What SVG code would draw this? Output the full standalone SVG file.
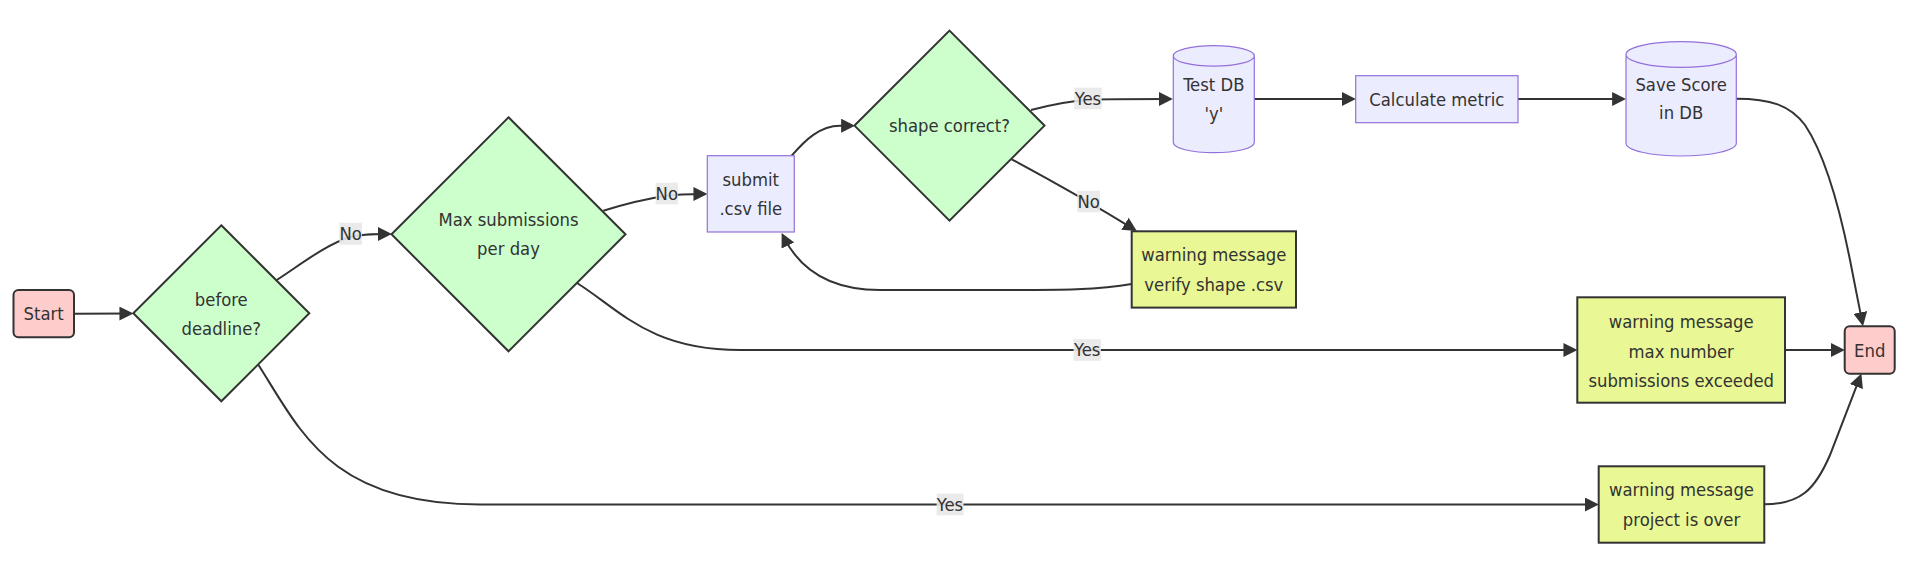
<svg xmlns="http://www.w3.org/2000/svg" width="1912" height="576" viewBox="0 0 1912 576">
<style>
text{font-family:"DejaVu Sans Condensed","DejaVu Sans",sans-serif;font-stretch:condensed;font-size:18.3px;fill:#333;text-anchor:middle}
.term{fill:#FFCCCC;stroke:#333;stroke-width:2}
.dec{fill:#CCFFCC;stroke:#333;stroke-width:2}
.proc{fill:#ECECFF;stroke:#9370DB;stroke-width:1.2}
.warn{fill:#E9F794;stroke:#333;stroke-width:2}
.edge{fill:none;stroke:#333;stroke-width:2}
.lbl{fill:#E8E8E8;opacity:0.9}
</style>
<defs>
<marker id="arr" markerUnits="userSpaceOnUse" markerWidth="14" markerHeight="14" viewBox="0 0 13.5 13.5" refX="9.5" refY="6.75" orient="auto">
<path d="M0,0 L13.5,6.75 L0,13.5 z" fill="#333"/>
</marker>
</defs>
<rect width="1912" height="576" fill="#fff"/>
<g id="connectors">
<path class="edge" marker-end="url(#arr)" d="M74,313.7 L129.3,313.6"/>
<path class="edge" marker-end="url(#arr)" d="M276.7,280 C300,265 325,245 350,237 C362,234 372,234 387.7,234"/>
<path class="edge" marker-end="url(#arr)" d="M603.3,210.7 C625,204 645,199 665,196 C680,194 690,194 703.3,194"/>
<path class="edge" marker-end="url(#arr)" d="M791.7,155.7 C805,140 820,125.7 840,125.7 L851,125.7"/>
<path class="edge" marker-end="url(#arr)" d="M1031,110 C1050,105 1070,101 1090,99.5 C1110,99 1140,99 1168.7,99"/>
<path class="edge" marker-end="url(#arr)" d="M1254.3,99 L1351.7,99"/>
<path class="edge" marker-end="url(#arr)" d="M1518,99 L1622,99"/>
<path class="edge" marker-end="url(#arr)" d="M1736.3,98.7 C1770,98.7 1790,105 1805,125 C1825,155 1840,210 1850,260 L1862.2,322.1"/>
<path class="edge" marker-end="url(#arr)" d="M1011.7,159.3 Q1080,196 1133.3,228.9"/>
<path class="edge" marker-end="url(#arr)" d="M1131.7,284 C1100,290 1060,290 1000,290 L880,290 C830,290 800,270 783.5,236.6"/>
<path class="edge" marker-end="url(#arr)" d="M577,283 C620,310 650,350 740,350 L1573.3,350"/>
<path class="edge" marker-end="url(#arr)" d="M258.5,365 C300,430 330,504.5 480,504.5 L1594.7,504.5"/>
<path class="edge" marker-end="url(#arr)" d="M1785,350 L1840.7,350"/>
<path class="edge" marker-end="url(#arr)" d="M1764.3,504.3 C1800,504.3 1815,490 1830,455 L1859.9,377.4"/>
<g id="edge-labels">
<rect class="lbl" x="339.3" y="222.7" width="22.7" height="22"/><text x="350.7" y="240.2">No</text>
<rect class="lbl" x="655.7" y="182.7" width="22.3" height="21.6"/><text x="666.8" y="199.9">No</text>
<rect class="lbl" x="1074.3" y="87.7" width="27.4" height="21.6"/><text x="1088" y="104.9">Yes</text>
<rect class="lbl" x="1077.3" y="190.7" width="22.7" height="21.6"/><text x="1088.7" y="207.8">No</text>
<rect class="lbl" x="1073.5" y="339.2" width="27.5" height="21.6"/><text x="1087.2" y="356.4">Yes</text>
<rect class="lbl" x="936.6" y="493.7" width="27" height="21.6"/><text x="950" y="510.9">Yes</text>
</g>
</g>
<g id="start">
<rect class="term" x="13.5" y="290" width="60.5" height="47.3" rx="5"/>
<text x="43.7" y="320.2">Start</text>
</g>
<g id="before-deadline">
<polygon class="dec" points="221.3,225.3 309.3,313.3 221.3,401.3 133.3,313.3"/>
<text x="221.3" y="305.7">before</text>
<text x="221.3" y="335">deadline?</text>
</g>
<g id="max-submissions">
<polygon class="dec" points="508.5,117.3 625.5,234.3 508.5,351.3 391.5,234.3"/>
<text x="508.5" y="226">Max submissions</text>
<text x="508.5" y="255.3">per day</text>
</g>
<g id="submit">
<rect class="proc" x="707.3" y="155.7" width="87" height="76.3"/>
<text x="750.8" y="186">submit</text>
<text x="750.8" y="215.3">.csv file</text>
</g>
<g id="shape-correct">
<polygon class="dec" points="949.5,30.6 1044.5,125.6 949.5,220.6 854.5,125.6"/>
<text x="949.5" y="131.8">shape correct?</text>
</g>
<g id="test-db">
<path class="proc" d="M1173.3,55.9 a40.5,10.2 0 0 0 81,0 a40.5,10.2 0 0 0 -81,0 l0,86.6 a40.5,10.2 0 0 0 81,0 l0,-86.6"/>
<text x="1213.8" y="90.7">Test DB</text>
<text x="1213.8" y="120">'y'</text>
</g>
<g id="calculate-metric">
<rect class="proc" x="1355.7" y="75.7" width="162.3" height="47"/>
<text x="1436.8" y="105.7">Calculate metric</text>
</g>
<g id="save-score">
<path class="proc" d="M1626,54.5 a55.15,12.8 0 0 0 110.3,0 a55.15,12.8 0 0 0 -110.3,0 l0,88.7 a55.15,12.8 0 0 0 110.3,0 l0,-88.7"/>
<text x="1681.2" y="90.7">Save Score</text>
<text x="1681.2" y="119.3">in DB</text>
</g>
<g id="warn-shape">
<rect class="warn" x="1131.7" y="231.3" width="164.3" height="76.3"/>
<text x="1213.8" y="261.3">warning message</text>
<text x="1213.8" y="290.6">verify shape .csv</text>
</g>
<g id="warn-max">
<rect class="warn" x="1577.3" y="297.3" width="207.7" height="105.4"/>
<text x="1681.2" y="328.3">warning message</text>
<text x="1681.2" y="357.6">max number</text>
<text x="1681.2" y="386.9">submissions exceeded</text>
</g>
<g id="warn-over">
<rect class="warn" x="1598.7" y="466.3" width="165.6" height="76.4"/>
<text x="1681.5" y="496.3">warning message</text>
<text x="1681.5" y="525.6">project is over</text>
</g>
<g id="end">
<rect class="term" x="1844.7" y="326.3" width="50" height="47.4" rx="5"/>
<text x="1869.7" y="356.5">End</text>
</g>
</svg>
